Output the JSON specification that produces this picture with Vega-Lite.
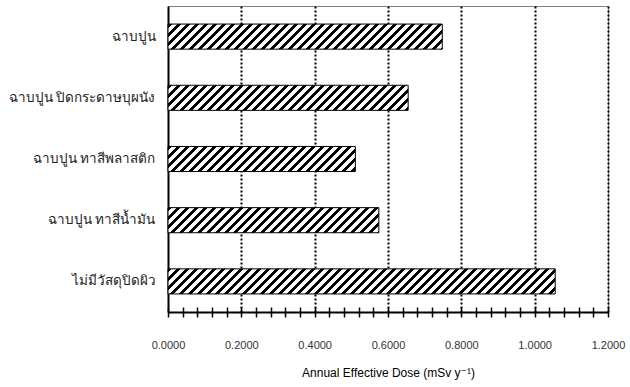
{
  "$schema": "https://vega.github.io/schema/vega-lite/v6.json",
  "width": 440,
  "height": 306,
  "autosize": "none",
  "padding": {"left": 168, "top": 6, "right": 22, "bottom": 75},
  "background": "white",
  "config": {
    "view": {"stroke": "#808080", "strokeWidth": 1},
    "axis": {"labelFont": "Liberation Sans, DejaVu Sans, sans-serif", "titleFont": "Liberation Sans, DejaVu Sans, sans-serif"}
  },
  "params": [
    {"name": "hatchStops", "value": [
      {"offset":0,"color":"#000"},{"offset":0.009,"color":"#000"},{"offset":0.009,"color":"#fff"},{"offset":0.02,"color":"#fff"},
      {"offset":0.02,"color":"#000"},{"offset":0.029,"color":"#000"},{"offset":0.029,"color":"#fff"},{"offset":0.04,"color":"#fff"},
      {"offset":0.04,"color":"#000"},{"offset":0.049,"color":"#000"},{"offset":0.049,"color":"#fff"},{"offset":0.06,"color":"#fff"},
      {"offset":0.06,"color":"#000"},{"offset":0.069,"color":"#000"},{"offset":0.069,"color":"#fff"},{"offset":0.08,"color":"#fff"},
      {"offset":0.08,"color":"#000"},{"offset":0.089,"color":"#000"},{"offset":0.089,"color":"#fff"},{"offset":0.1,"color":"#fff"},
      {"offset":0.1,"color":"#000"},{"offset":0.109,"color":"#000"},{"offset":0.109,"color":"#fff"},{"offset":0.12,"color":"#fff"},
      {"offset":0.12,"color":"#000"},{"offset":0.129,"color":"#000"},{"offset":0.129,"color":"#fff"},{"offset":0.14,"color":"#fff"},
      {"offset":0.14,"color":"#000"},{"offset":0.149,"color":"#000"},{"offset":0.149,"color":"#fff"},{"offset":0.16,"color":"#fff"},
      {"offset":0.16,"color":"#000"},{"offset":0.169,"color":"#000"},{"offset":0.169,"color":"#fff"},{"offset":0.18,"color":"#fff"},
      {"offset":0.18,"color":"#000"},{"offset":0.189,"color":"#000"},{"offset":0.189,"color":"#fff"},{"offset":0.2,"color":"#fff"},
      {"offset":0.2,"color":"#000"},{"offset":0.209,"color":"#000"},{"offset":0.209,"color":"#fff"},{"offset":0.22,"color":"#fff"},
      {"offset":0.22,"color":"#000"},{"offset":0.229,"color":"#000"},{"offset":0.229,"color":"#fff"},{"offset":0.24,"color":"#fff"},
      {"offset":0.24,"color":"#000"},{"offset":0.249,"color":"#000"},{"offset":0.249,"color":"#fff"},{"offset":0.26,"color":"#fff"},
      {"offset":0.26,"color":"#000"},{"offset":0.269,"color":"#000"},{"offset":0.269,"color":"#fff"},{"offset":0.28,"color":"#fff"},
      {"offset":0.28,"color":"#000"},{"offset":0.289,"color":"#000"},{"offset":0.289,"color":"#fff"},{"offset":0.3,"color":"#fff"},
      {"offset":0.3,"color":"#000"},{"offset":0.309,"color":"#000"},{"offset":0.309,"color":"#fff"},{"offset":0.32,"color":"#fff"},
      {"offset":0.32,"color":"#000"},{"offset":0.329,"color":"#000"},{"offset":0.329,"color":"#fff"},{"offset":0.34,"color":"#fff"},
      {"offset":0.34,"color":"#000"},{"offset":0.349,"color":"#000"},{"offset":0.349,"color":"#fff"},{"offset":0.36,"color":"#fff"},
      {"offset":0.36,"color":"#000"},{"offset":0.369,"color":"#000"},{"offset":0.369,"color":"#fff"},{"offset":0.38,"color":"#fff"},
      {"offset":0.38,"color":"#000"},{"offset":0.389,"color":"#000"},{"offset":0.389,"color":"#fff"},{"offset":0.4,"color":"#fff"},
      {"offset":0.4,"color":"#000"},{"offset":0.409,"color":"#000"},{"offset":0.409,"color":"#fff"},{"offset":0.42,"color":"#fff"},
      {"offset":0.42,"color":"#000"},{"offset":0.429,"color":"#000"},{"offset":0.429,"color":"#fff"},{"offset":0.44,"color":"#fff"},
      {"offset":0.44,"color":"#000"},{"offset":0.449,"color":"#000"},{"offset":0.449,"color":"#fff"},{"offset":0.46,"color":"#fff"},
      {"offset":0.46,"color":"#000"},{"offset":0.469,"color":"#000"},{"offset":0.469,"color":"#fff"},{"offset":0.48,"color":"#fff"},
      {"offset":0.48,"color":"#000"},{"offset":0.489,"color":"#000"},{"offset":0.489,"color":"#fff"},{"offset":0.5,"color":"#fff"},
      {"offset":0.5,"color":"#000"},{"offset":0.509,"color":"#000"},{"offset":0.509,"color":"#fff"},{"offset":0.52,"color":"#fff"},
      {"offset":0.52,"color":"#000"},{"offset":0.529,"color":"#000"},{"offset":0.529,"color":"#fff"},{"offset":0.54,"color":"#fff"},
      {"offset":0.54,"color":"#000"},{"offset":0.549,"color":"#000"},{"offset":0.549,"color":"#fff"},{"offset":0.56,"color":"#fff"},
      {"offset":0.56,"color":"#000"},{"offset":0.569,"color":"#000"},{"offset":0.569,"color":"#fff"},{"offset":0.58,"color":"#fff"},
      {"offset":0.58,"color":"#000"},{"offset":0.589,"color":"#000"},{"offset":0.589,"color":"#fff"},{"offset":0.6,"color":"#fff"},
      {"offset":0.6,"color":"#000"},{"offset":0.609,"color":"#000"},{"offset":0.609,"color":"#fff"},{"offset":0.62,"color":"#fff"},
      {"offset":0.62,"color":"#000"},{"offset":0.629,"color":"#000"},{"offset":0.629,"color":"#fff"},{"offset":0.64,"color":"#fff"},
      {"offset":0.64,"color":"#000"},{"offset":0.649,"color":"#000"},{"offset":0.649,"color":"#fff"},{"offset":0.66,"color":"#fff"},
      {"offset":0.66,"color":"#000"},{"offset":0.669,"color":"#000"},{"offset":0.669,"color":"#fff"},{"offset":0.68,"color":"#fff"},
      {"offset":0.68,"color":"#000"},{"offset":0.689,"color":"#000"},{"offset":0.689,"color":"#fff"},{"offset":0.7,"color":"#fff"},
      {"offset":0.7,"color":"#000"},{"offset":0.709,"color":"#000"},{"offset":0.709,"color":"#fff"},{"offset":0.72,"color":"#fff"},
      {"offset":0.72,"color":"#000"},{"offset":0.729,"color":"#000"},{"offset":0.729,"color":"#fff"},{"offset":0.74,"color":"#fff"},
      {"offset":0.74,"color":"#000"},{"offset":0.749,"color":"#000"},{"offset":0.749,"color":"#fff"},{"offset":0.76,"color":"#fff"},
      {"offset":0.76,"color":"#000"},{"offset":0.769,"color":"#000"},{"offset":0.769,"color":"#fff"},{"offset":0.78,"color":"#fff"},
      {"offset":0.78,"color":"#000"},{"offset":0.789,"color":"#000"},{"offset":0.789,"color":"#fff"},{"offset":0.8,"color":"#fff"},
      {"offset":0.8,"color":"#000"},{"offset":0.809,"color":"#000"},{"offset":0.809,"color":"#fff"},{"offset":0.82,"color":"#fff"},
      {"offset":0.82,"color":"#000"},{"offset":0.829,"color":"#000"},{"offset":0.829,"color":"#fff"},{"offset":0.84,"color":"#fff"},
      {"offset":0.84,"color":"#000"},{"offset":0.849,"color":"#000"},{"offset":0.849,"color":"#fff"},{"offset":0.86,"color":"#fff"},
      {"offset":0.86,"color":"#000"},{"offset":0.869,"color":"#000"},{"offset":0.869,"color":"#fff"},{"offset":0.88,"color":"#fff"},
      {"offset":0.88,"color":"#000"},{"offset":0.889,"color":"#000"},{"offset":0.889,"color":"#fff"},{"offset":0.9,"color":"#fff"},
      {"offset":0.9,"color":"#000"},{"offset":0.909,"color":"#000"},{"offset":0.909,"color":"#fff"},{"offset":0.92,"color":"#fff"},
      {"offset":0.92,"color":"#000"},{"offset":0.929,"color":"#000"},{"offset":0.929,"color":"#fff"},{"offset":0.94,"color":"#fff"},
      {"offset":0.94,"color":"#000"},{"offset":0.949,"color":"#000"},{"offset":0.949,"color":"#fff"},{"offset":0.96,"color":"#fff"},
      {"offset":0.96,"color":"#000"},{"offset":0.969,"color":"#000"},{"offset":0.969,"color":"#fff"},{"offset":0.98,"color":"#fff"},
      {"offset":0.98,"color":"#000"},{"offset":0.989,"color":"#000"},{"offset":0.989,"color":"#fff"},{"offset":1,"color":"#fff"}
    ]}
  ],
  "data": {
    "values": [
      {"material": "ฉาบปูน", "dose": 0.748},
      {"material": "ฉาบปูน ปิดกระดาษบุผนัง", "dose": 0.655},
      {"material": "ฉาบปูน ทาสีพลาสติก", "dose": 0.511},
      {"material": "ฉาบปูน ทาสีน้ำมัน", "dose": 0.575},
      {"material": "ไม่มีวัสดุปิดผิว", "dose": 1.056}
    ]
  },
  "encoding": {
    "y": {
      "field": "material",
      "type": "nominal",
      "sort": null,
      "scale": {"paddingInner": 0.59, "paddingOuter": 0.295},
      "axis": {
        "title": null,
        "ticks": false,
        "domain": true,
        "domainColor": "#000",
        "domainWidth": 2,
        "labelPadding": 13,
        "labelFontSize": 13.5,
        "labelColor": "#222",
        "labelLimit": 300
      }
    }
  },
  "layer": [
    {
      "mark": {
        "type": "bar",
        "fill": {"expr": "{gradient: 'linear', x1: 0, y1: 0, x2: scale('x', datum.dose) * 450 / (pow(scale('x', datum.dose), 2) + pow(bandwidth('y'), 2)), y2: bandwidth('y') * 450 / (pow(scale('x', datum.dose), 2) + pow(bandwidth('y'), 2)), stops: hatchStops}"},
        "strokeWidth": 0
      },
      "encoding": {
        "x": {
          "field": "dose",
          "type": "quantitative",
          "scale": {"domain": [0, 1.2], "nice": false, "zero": true},
          "axis": {
            "orient": "bottom",
            "grid": true,
            "gridColor": "#000",
            "gridDash": [2, 2],
            "gridWidth": 2,
            "gridOpacity": 1,
            "values": [0.2, 0.4, 0.6, 0.8, 1.0, 1.2],
            "domain": true,
            "domainColor": "#000",
            "domainWidth": 2,
            "ticks": false,
            "labels": false,
            "title": null
          }
        }
      }
    },
    {
      "mark": {"type": "bar", "fill": null, "filled": false, "stroke": "#000", "strokeWidth": 1},
      "encoding": {
        "x": {
          "field": "dose",
          "type": "quantitative",
          "scale": {"domain": [0, 1.2], "nice": false, "zero": true},
          "axis": {
            "orient": "bottom",
            "offset": -5,
            "grid": false,
            "domain": false,
            "ticks": true,
            "tickSize": 10,
            "tickColor": "#000",
            "tickWidth": 1.5,
            "values": [0, 0.04, 0.08, 0.12, 0.16, 0.2, 0.24, 0.28, 0.32, 0.36, 0.4, 0.44, 0.48, 0.52, 0.56, 0.6, 0.64, 0.68, 0.72, 0.76, 0.8, 0.84, 0.88, 0.92, 0.96, 1.0, 1.04, 1.08, 1.12, 1.16, 1.2],
            "labelExpr": "abs(datum.value * 5 - round(datum.value * 5)) < 0.001 ? format(datum.value, '.4f') : ''",
            "labelOverlap": false,
            "labelFlush": false,
            "labelPadding": 22,
            "labelFontSize": 11,
            "labelColor": "#333",
            "title": "Annual Effective Dose (mSv y⁻¹)",
            "titleFontSize": 12,
            "titleFontWeight": "normal",
            "titleColor": "#000",
            "titlePadding": 17
          }
        }
      }
    }
  ],
  "resolve": {"axis": {"x": "independent"}}
}
